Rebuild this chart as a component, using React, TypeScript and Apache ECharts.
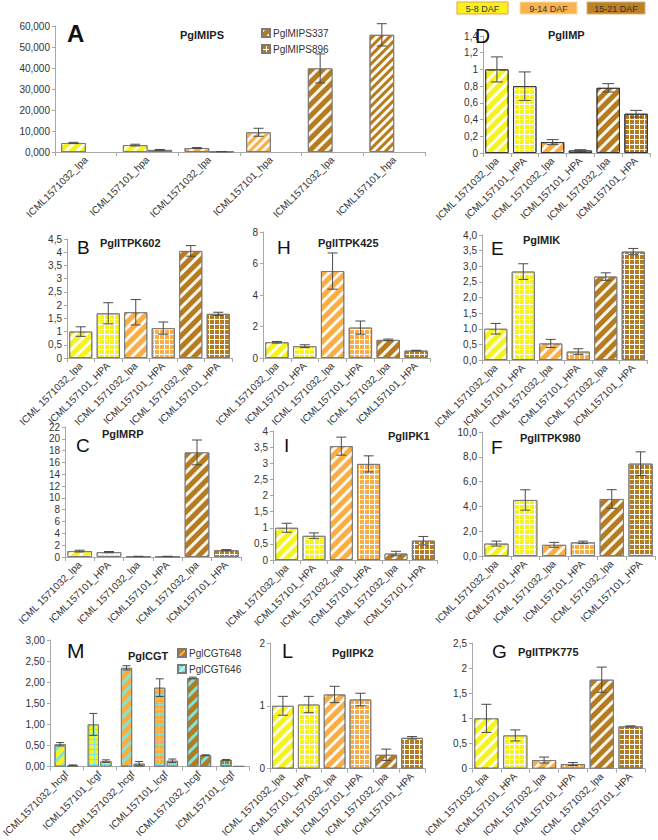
import React, { useEffect, useRef } from "react";
import * as echarts from "echarts";

// ---------- data ----------
const catsA = ["ICML1571032_lpa", "ICML157101_hpa", "ICML1571032_lpa", "ICML157101_hpa", "ICML1571032_lpa", "ICML157101_hpa"];
const catsStd = ["ICML 1571032_lpa", "ICML157101_HPA", "ICML 1571032_lpa", "ICML157101_HPA", "ICML 1571032_lpa", "ICML157101_HPA"];
const catsM = ["ICML1571032_hcgf", "ICML157101_lcgf", "ICML1571032_hcgf", "ICML157101_lcgf", "ICML1571032_hcgf", "ICML157101_lcgf"];

const mips337 = [4.3, 3.3, 1.9, 9.4, 39.8, 55.8];
const mips337Err = [0.3, 0.4, 0.2, 1.9, 6.9, 5.3];
const mips896 = [null, 1.0, 0.2, null, null, null];
const mips896Err = [null, 0.2, 0.05, null, null, null];

const impVals = [1.0, 0.8, 0.13, 0.03, 0.78, 0.47];
const impErr = [0.15, 0.17, 0.03, 0.01, 0.05, 0.04];
const itpk602Vals = [1.0, 1.69, 1.73, 1.13, 4.05, 1.67];
const itpk602Err = [0.18, 0.4, 0.48, 0.23, 0.2, 0.06];
const itpk425Vals = [1.0, 0.75, 5.52, 1.93, 1.15, 0.47];
const itpk425Err = [0.05, 0.09, 1.15, 0.42, 0.05, 0.02];
const mikVals = [1.0, 2.83, 0.53, 0.27, 2.67, 3.47];
const mikErr = [0.17, 0.25, 0.13, 0.09, 0.12, 0.1];
const mrpVals = [1.0, 0.83, 0.1, 0.1, 17.7, 1.15];
const mrpErr = [0.15, 0.1, 0.02, 0.02, 2.1, 0.1];
const ipk1Vals = [1.0, 0.75, 3.53, 2.98, 0.2, 0.6];
const ipk1Err = [0.14, 0.09, 0.28, 0.25, 0.07, 0.13];
const itpk980Vals = [1.0, 4.52, 0.9, 1.1, 4.6, 7.45];
const itpk980Err = [0.2, 0.82, 0.2, 0.1, 0.75, 0.95];
const cgt648 = [0.53, 1.0, 2.34, 1.87, 2.1, 0.16];
const cgt648Err = [0.04, 0.26, 0.05, 0.21, 0.02, 0.01];
const cgt646 = [0.03, 0.13, 0.07, 0.14, 0.27, 0.01];
const cgt646Err = [0.01, 0.03, 0.05, 0.04, 0.01, 0];
const ipk2Vals = [1.0, 1.02, 1.18, 1.1, 0.22, 0.49];
const ipk2Err = [0.15, 0.13, 0.13, 0.1, 0.09, 0.02];
const itpk775Vals = [1.0, 0.66, 0.17, 0.09, 1.77, 0.84];
const itpk775Err = [0.28, 0.11, 0.06, 0.03, 0.25, 0.01];

const dafLabels = ["5-8 DAF", "9-14 DAF", "15-21 DAF"];

// ---------- styles ----------
const YEL = "#f7f21e";
const ORA = "#f8ae45";
const BRN = "#b57b1f";
const CYA = "#7fe5dc";
const FONT = "Liberation Sans, Arial, sans-serif";
const ROT = -Math.PI / 4;

const stripe = (bg: string, fg = "rgba(255,255,255,0.92)", dash = 2.5, gap = 4.5) => ({
  color: bg,
  decal: { symbol: "rect", symbolSize: 1, dashArrayX: [1, 0], dashArrayY: [dash, gap], rotation: ROT, color: fg },
});
const grid = (fg: string, bg = "#ffffff") => ({
  color: bg,
  decal: { symbol: "rect", symbolSize: 1, dashArrayX: [3.5, 1], dashArrayY: [3.5, 1], rotation: 0, color: fg },
});
const stdStyles = [stripe(YEL), grid(YEL), stripe(ORA), grid(ORA), stripe(BRN), grid(BRN)];

const fmtTrim = (v: number) => String(parseFloat(v.toFixed(2))).replace(".", ",");
const fmtFix = (d: number) => (v: number) => v.toFixed(d).replace(".", ",");

type Panel = {
  key: string;
  gene: string;
  cats: string[];
  box: number[];
  max: number;
  interval: number;
  fmt: (v: number) => string;
  series: { name: string; vals: (number | null)[]; errs: (number | null)[]; styles: any[]; offset: number; legendStyle?: any }[];
  barWidth: string;
  barGap?: string;
  letter: number[];
  geneAt: number[];
  border?: string;
  cap: number;
};

function App() {
  const ref = useRef<HTMLDivElement>(null);
  useEffect(() => {
    const chart = echarts.init(ref.current!, null, { renderer: "svg" });

    const panels: Panel[] = [
      {
        key: "A", gene: "PglMIPS", cats: catsA, box: [55, 26, 370, 126], max: 60, interval: 10, fmt: fmtFix(3),
        series: [
          { name: "PglMIPS337", vals: mips337, errs: mips337Err, offset: -0.2, legendStyle: stripe(BRN),
            styles: [stripe(YEL), stripe(YEL), stripe(ORA), stripe("#fff8ee", ORA, 3, 3), stripe(BRN), stripe("#fffaf2", BRN, 3, 3)] },
          { name: "PglMIPS896", vals: mips896, errs: mips896Err, offset: 0.2, legendStyle: grid(BRN),
            styles: [grid(YEL), { color: "#dedab6" }, { color: "#d9c9a0" }, grid(ORA), grid(BRN), grid(BRN)] },
        ],
        barWidth: "40%", barGap: "0%", letter: [67, 21, 24, 1], geneAt: [180, 29], cap: 5,
      },
      {
        key: "D", gene: "PglIMP", cats: catsStd, box: [483, 36, 167, 117], max: 1.4, interval: 0.2, fmt: fmtTrim,
        series: [{ name: "PglIMP", vals: impVals, errs: impErr, offset: 0, styles: stdStyles }],
        barWidth: "84%", letter: [475, 25, 21, 0], geneAt: [548, 29], border: "#333", cap: 6,
      },
      {
        key: "B", gene: "PglITPK602", cats: catsStd, box: [67, 239, 165, 119], max: 4.5, interval: 0.5, fmt: fmtTrim,
        series: [{ name: "PglITPK602", vals: itpk602Vals, errs: itpk602Err, offset: 0, styles: stdStyles }],
        barWidth: "84%", letter: [77, 238, 19, 0], geneAt: [100, 237], cap: 5,
      },
      {
        key: "H", gene: "PglITPK425", cats: catsStd, box: [263, 232, 167, 126], max: 8, interval: 2, fmt: fmtTrim,
        series: [{ name: "PglITPK425", vals: itpk425Vals, errs: itpk425Err, offset: 0, styles: stdStyles }],
        barWidth: "84%", letter: [277, 238, 19, 0], geneAt: [318, 237], cap: 5,
      },
      {
        key: "E", gene: "PglMIK", cats: catsStd, box: [482, 235, 165, 125], max: 4, interval: 0.5, fmt: fmtFix(1),
        series: [{ name: "PglMIK", vals: mikVals, errs: mikErr, offset: 0, styles: stdStyles }],
        barWidth: "84%", letter: [491, 239, 19, 0], geneAt: [523, 234], cap: 5,
      },
      {
        key: "C", gene: "PglMRP", cats: catsStd, box: [65, 427, 176, 130], max: 22, interval: 2, fmt: fmtTrim,
        series: [{ name: "PglMRP", vals: mrpVals, errs: mrpErr, offset: 0, styles: stdStyles }],
        barWidth: "84%", letter: [76, 436, 19, 0], geneAt: [102, 428], cap: 5,
      },
      {
        key: "I", gene: "PglIPK1", cats: catsStd, box: [273, 431, 164, 129], max: 4, interval: 0.5, fmt: fmtTrim,
        series: [{ name: "PglIPK1", vals: ipk1Vals, errs: ipk1Err, offset: 0, styles: stdStyles }],
        barWidth: "84%", letter: [284, 436, 19, 0], geneAt: [388, 430], cap: 5,
      },
      {
        key: "F", gene: "PglITPK980", cats: catsStd, box: [482, 432, 173, 124], max: 10, interval: 2, fmt: fmtFix(1),
        series: [{ name: "PglITPK980", vals: itpk980Vals, errs: itpk980Err, offset: 0, styles: stdStyles }],
        barWidth: "84%", letter: [491, 438, 19, 0], geneAt: [520, 432], cap: 5,
      },
      {
        key: "M", gene: "PglCGT", cats: catsM, box: [39, 640, 210, 132], max: 3, interval: 0.5, fmt: fmtFix(2),
        series: [
          { name: "PglCGT648", vals: cgt648, errs: cgt648Err, offset: -0.19, legendStyle: stripe(BRN, ORA, 2, 3),
            styles: [stripe(YEL, CYA), grid(YEL, CYA), stripe(ORA, CYA), grid(ORA, CYA), stripe(BRN, CYA), grid(BRN, CYA)] },
          { name: "PglCGT646", vals: cgt646, errs: cgt646Err, offset: 0.19, legendStyle: stripe(CYA, "#c8f5f0", 2, 3),
            styles: [stripe(CYA, YEL), grid(YEL, CYA), stripe(CYA, ORA), grid(ORA, CYA), stripe(BRN, CYA), grid(BRN, CYA)] },
        ],
        barWidth: "34%", barGap: "12%", letter: [67, 640, 21, 0], geneAt: [128, 650], cap: 4,
      },
      {
        key: "L", gene: "PglIPK2", cats: catsStd, box: [270, 643, 155, 128], max: 2, interval: 1, fmt: fmtTrim,
        series: [{ name: "PglIPK2", vals: ipk2Vals, errs: ipk2Err, offset: 0, styles: stdStyles }],
        barWidth: "84%", letter: [282, 641, 20, 0], geneAt: [332, 647], cap: 5,
      },
      {
        key: "G", gene: "PglITPK775", cats: catsStd, box: [472, 643, 173, 128], max: 2.5, interval: 0.5, fmt: fmtTrim,
        series: [{ name: "PglITPK775", vals: itpk775Vals, errs: itpk775Err, offset: 0, styles: stdStyles }],
        barWidth: "84%", letter: [492, 642, 19, 0], geneAt: [518, 646], cap: 5,
      },
    ];

    const grids: any[] = [];
    const xAxes: any[] = [];
    const yAxes: any[] = [];
    const series: any[] = [];
    const titles: any[] = [];
    const axisCol = "#a8a8a8";

    panels.forEach((p, gi) => {
      grids.push({ left: p.box[0], top: p.box[1], width: p.box[2], height: p.box[3], containLabel: false });
      xAxes.push({
        gridIndex: gi, type: "category", data: p.cats,
        axisLine: { lineStyle: { color: axisCol } },
        axisTick: { show: true, length: 4, lineStyle: { color: axisCol } },
        axisLabel: { interval: 0, rotate: 45, fontSize: 10, color: "#333", fontFamily: FONT, margin: 6 },
      });
      yAxes.push({
        gridIndex: gi, type: "value", min: 0, max: p.max, interval: p.interval,
        axisLine: { show: true, lineStyle: { color: axisCol } },
        axisTick: { show: true, length: 3, lineStyle: { color: axisCol } },
        splitLine: { show: false },
        axisLabel: { formatter: p.fmt, fontSize: 10, color: "#333", fontFamily: FONT, margin: 5 },
      });
      p.series.forEach((s) => {
        series.push({
          type: "bar", name: s.name, xAxisIndex: gi, yAxisIndex: gi,
          barWidth: p.barWidth, barGap: p.barGap ?? "0%",
          itemStyle: { ...(s.legendStyle || s.styles[0]), borderColor: p.border || "#7a7a7a", borderWidth: 1 },
          data: s.vals.map((v, i) => (v == null ? null : {
            value: v,
            itemStyle: { ...s.styles[i], borderColor: p.border || "#7a7a7a", borderWidth: 1 },
          })),
        });
        const errData: number[][] = [];
        s.vals.forEach((v, i) => {
          const e = s.errs[i];
          if (v != null && e != null && e > 0) errData.push([i, v - e, v + e]);
        });
        const off = s.offset;
        const cap = p.cap;
        series.push({
          type: "custom", name: s.name + "_err", xAxisIndex: gi, yAxisIndex: gi, z: 10, silent: true,
          data: errData, encode: { x: 0, y: [1, 2] },
          renderItem: (params: any, api: any) => {
            const i = api.value(0);
            const lo = api.coord([i, api.value(1)]);
            const hi = api.coord([i, api.value(2)]);
            const bw = api.size([1, 0])[0];
            const cx = lo[0] + off * bw;
            const st = { stroke: "#4a4a4a", lineWidth: 1 };
            return {
              type: "group",
              children: [
                { type: "line", shape: { x1: cx, y1: lo[1], x2: cx, y2: hi[1] }, style: st },
                { type: "line", shape: { x1: cx - cap, y1: hi[1], x2: cx + cap, y2: hi[1] }, style: st },
                { type: "line", shape: { x1: cx - cap, y1: lo[1], x2: cx + cap, y2: lo[1] }, style: st },
              ],
            };
          },
        });
      });
      titles.push({
        text: p.key, left: p.letter[0], top: p.letter[1], padding: 0,
        textStyle: { fontSize: p.letter[2], fontWeight: p.letter[3] ? "bold" : "normal", color: "#111", fontFamily: FONT },
      });
      titles.push({
        text: p.gene, left: p.geneAt[0], top: p.geneAt[1], padding: 0,
        textStyle: { fontSize: 11, fontWeight: "bold", color: "#222", fontFamily: FONT },
      });
    });

    const dafFill = [YEL, "#f9b34e", "#b98024"];
    const dafStroke = ["#e9a43c", "#fcd9a0", "#d9b070"];
    const dafBox = [[457, 2, 51], [520, 2, 57], [587, 2, 58]];
    const graphic: any[] = [];
    dafLabels.forEach((t, i) => {
      const [x, y, w] = dafBox[i];
      graphic.push({ type: "rect", shape: { x, y, width: w, height: 12 }, style: { fill: dafFill[i], stroke: dafStroke[i], lineWidth: 1 } });
      graphic.push({
        type: "text", x: x + w / 2, y: y + 6.5,
        style: { text: t, fontSize: 9, fontFamily: FONT, fill: "#333", align: "center", verticalAlign: "middle", textAlign: "center", textVerticalAlign: "middle" },
      });
    });

    const legendCommon = {
      orient: "vertical", itemWidth: 8, itemHeight: 8, itemGap: 6, selectedMode: false, icon: "rect",
      textStyle: { fontSize: 10, color: "#333", fontFamily: FONT, padding: [0, 0, 0, -2] },
    };

    chart.setOption({
      animation: false,
      backgroundColor: "#ffffff",
      grid: grids,
      xAxis: xAxes,
      yAxis: yAxes,
      series,
      title: titles,
      graphic,
      legend: [
        { ...legendCommon, data: ["PglMIPS337", "PglMIPS896"], left: 256, top: 23 },
        { ...legendCommon, data: ["PglCGT648", "PglCGT646"], left: 172, top: 643 },
      ],
    });
    return () => chart.dispose();
  }, []);
  return <div ref={ref} style={{ position: "absolute", left: 0, top: 0, width: 658, height: 840, background: "#fff" }} />;
}

export default App;
